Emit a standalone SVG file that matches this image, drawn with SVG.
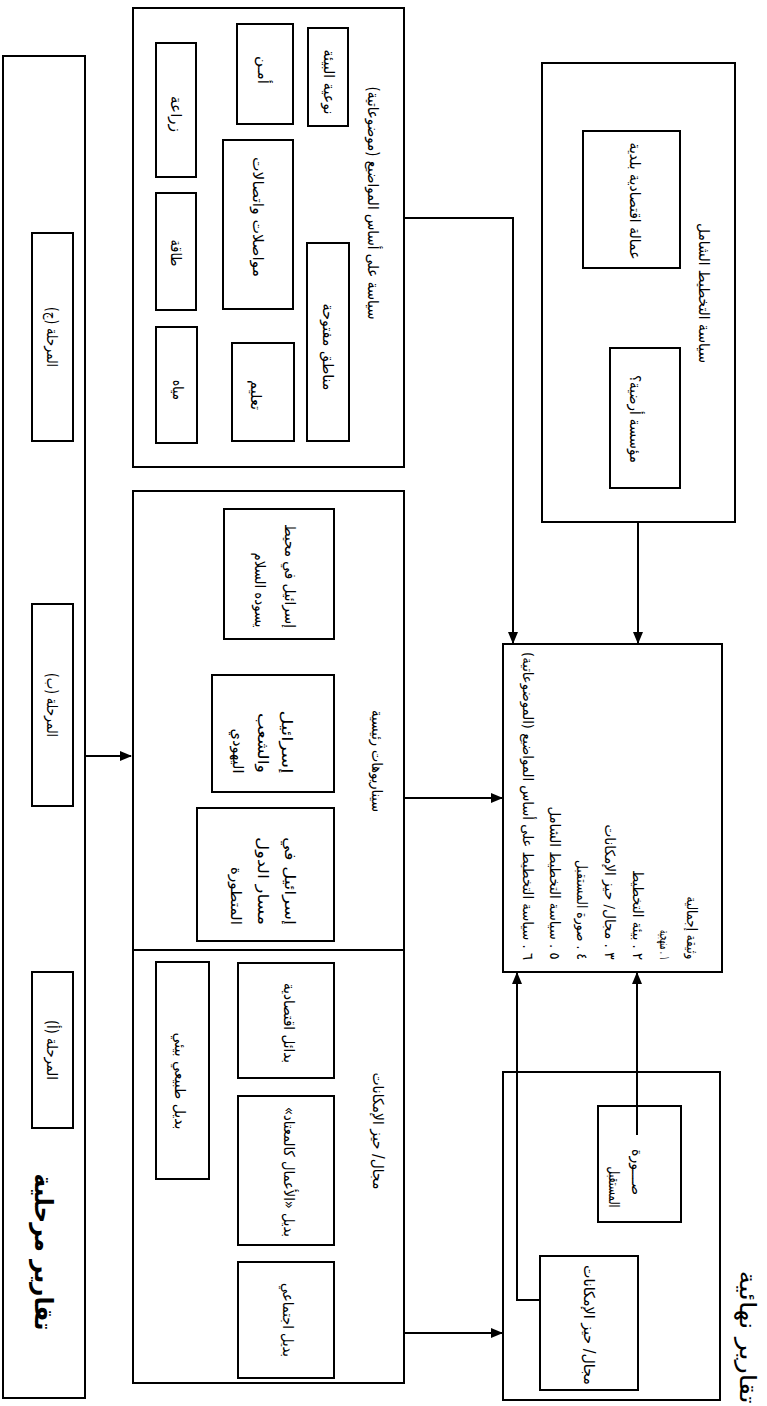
<svg xmlns="http://www.w3.org/2000/svg" width="767" height="1406" viewBox="0 0 767 1406">
<style>
.b{fill:#fff;stroke:#000;stroke-width:2}
.c{fill:none;stroke:#000;stroke-width:2}
text{font-family:"DejaVu Sans",sans-serif;font-size:15px;fill:#000;text-anchor:middle;direction:rtl;unicode-bidi:embed}
.s{font-size:14px}
.h{font-size:25px;font-weight:bold}
.h2{font-size:23px}
</style>
<defs>
<marker id="a" viewBox="0 0 12 12" refX="11" refY="6" markerWidth="12" markerHeight="12" markerUnits="userSpaceOnUse" orient="auto"><path d="M0,1 L12,6 L0,11 z" fill="#000"/></marker>
</defs>
<rect width="767" height="1406" fill="#fff"/>

<g id="interim-reports">
<rect class="b" x="3" y="56" width="82" height="1342"/>
<text class="h" transform="translate(44,1252) rotate(90)" dy=".35em" textLength="157" lengthAdjust="spacingAndGlyphs">تقارير مرحلية</text>
</g>
<g id="phase-c">
<rect class="b" x="32" y="233" width="41" height="208"/>
<text transform="translate(52,337) rotate(90)" dy=".35em" textLength="60" lengthAdjust="spacingAndGlyphs">المرحلة (ج)</text>
</g>
<g id="phase-b">
<rect class="b" x="32" y="604" width="41" height="202"/>
<text transform="translate(52,705) rotate(90)" dy=".35em" textLength="64" lengthAdjust="spacingAndGlyphs">المرحلة (ب)</text>
</g>
<g id="phase-a">
<rect class="b" x="32" y="972" width="41" height="156"/>
<text transform="translate(52,1050) rotate(90)" dy=".35em" textLength="60" lengthAdjust="spacingAndGlyphs">المرحلة (أ)</text>
</g>

<g id="thematic-policy">
<rect class="b" x="133" y="8" width="271" height="459"/>
<text transform="translate(373,203) rotate(90)" dy=".35em" textLength="233" lengthAdjust="spacingAndGlyphs">سياسة على أساس المواضيع (موضوعاتية)</text>
</g>
<g id="env-quality">
<rect class="b" x="308" y="28" width="40" height="98"/>
<text transform="translate(329,82) rotate(90)" dy=".35em" textLength="65" lengthAdjust="spacingAndGlyphs">نوعية البيئة</text>
</g>
<g id="security">
<rect class="b" x="237" y="24" width="56" height="100"/>
<text transform="translate(263,70) rotate(90)" dy=".35em">أمـن</text>
</g>
<g id="agriculture">
<rect class="b" x="156" y="43" width="40" height="134"/>
<text transform="translate(176,114) rotate(90)" dy=".35em" textLength="36" lengthAdjust="spacingAndGlyphs">زراعة</text>
</g>
<g id="transport">
<rect class="b" x="223" y="140" width="70" height="169"/>
<text transform="translate(258,217) rotate(90)" dy=".35em" textLength="120" lengthAdjust="spacingAndGlyphs">مواصلات واتصالات</text>
</g>
<g id="energy">
<rect class="b" x="156" y="193" width="40" height="117"/>
<text transform="translate(176,253) rotate(90)" dy=".35em" textLength="27" lengthAdjust="spacingAndGlyphs">طاقة</text>
</g>
<g id="open-areas">
<rect class="b" x="307" y="243" width="42" height="198"/>
<text transform="translate(328,347) rotate(90)" dy=".35em" textLength="87" lengthAdjust="spacingAndGlyphs">مناطق مفتوحة</text>
</g>
<g id="education">
<rect class="b" x="232" y="343" width="62" height="98"/>
<text transform="translate(256,395) rotate(90)" dy=".35em" textLength="30" lengthAdjust="spacingAndGlyphs">تعليم</text>
</g>
<g id="water">
<rect class="b" x="156" y="327" width="41" height="116"/>
<text transform="translate(178,390) rotate(90)" dy=".35em" textLength="20" lengthAdjust="spacingAndGlyphs">مياه</text>
</g>

<g id="scenarios-range">
<rect class="b" x="133" y="491" width="271" height="892"/>
<line class="c" x1="133" y1="950" x2="404" y2="950"/>
<text transform="translate(377,761) rotate(90)" dy=".35em" textLength="102" lengthAdjust="spacingAndGlyphs">سيناريوهات رئيسية</text>
<text transform="translate(378,1131) rotate(90)" dy=".35em" textLength="117" lengthAdjust="spacingAndGlyphs">مجال/ حيز الإمكانات</text>
</g>
<g id="peace">
<rect class="b" x="224" y="509" width="110" height="130"/>
<text transform="translate(290,576) rotate(90)" dy=".35em" textLength="104" lengthAdjust="spacingAndGlyphs">إسرائيل في محيط</text>
<text transform="translate(260,590) rotate(90)" dy=".35em" textLength="75" lengthAdjust="spacingAndGlyphs">يسوده السلام</text>
</g>
<g id="jewish-people">
<rect class="b" x="212" y="675" width="122" height="117"/>
<text transform="translate(287,742) rotate(90)" dy=".35em" textLength="63" lengthAdjust="spacingAndGlyphs">إسرائيل</text>
<text transform="translate(263,743) rotate(90)" dy=".35em" textLength="60" lengthAdjust="spacingAndGlyphs">والشعب</text>
<text transform="translate(238,751) rotate(90)" dy=".35em" textLength="45" lengthAdjust="spacingAndGlyphs">اليهودي</text>
</g>
<g id="developed">
<rect class="b" x="197" y="808" width="137" height="133"/>
<text transform="translate(290,881) rotate(90)" dy=".35em" textLength="88" lengthAdjust="spacingAndGlyphs">إسرائيل في</text>
<text transform="translate(263,881) rotate(90)" dy=".35em" textLength="88" lengthAdjust="spacingAndGlyphs">مسار الدول</text>
<text transform="translate(236,896) rotate(90)" dy=".35em" textLength="58" lengthAdjust="spacingAndGlyphs">المتطورة</text>
</g>
<g id="economic-alt">
<rect class="b" x="238" y="963" width="96" height="115"/>
<text transform="translate(289,1023) rotate(90)" dy=".35em" textLength="80" lengthAdjust="spacingAndGlyphs">بدائل اقتصادية</text>
</g>
<g id="business-as-usual">
<rect class="b" x="238" y="1096" width="96" height="149"/>
<text transform="translate(289,1172) rotate(90)" dy=".35em" textLength="130" lengthAdjust="spacingAndGlyphs">بديل «الأعمال كالمعتاد»</text>
</g>
<g id="social-alt">
<rect class="b" x="238" y="1262" width="96" height="116"/>
<text transform="translate(288,1320) rotate(90)" dy=".35em" textLength="74" lengthAdjust="spacingAndGlyphs">بديل اجتماعي</text>
</g>
<g id="nature-alt">
<rect class="b" x="156" y="962" width="53" height="217"/>
<text transform="translate(180,1081) rotate(90)" dy=".35em" textLength="97" lengthAdjust="spacingAndGlyphs">بديل طبيعي بيئي</text>
</g>

<g id="comprehensive-policy">
<rect class="b" x="542" y="63" width="193" height="459"/>
<text transform="translate(704,293) rotate(90)" dy=".35em" textLength="140" lengthAdjust="spacingAndGlyphs">سياسة التخطيط الشامل</text>
</g>
<g id="local-employment">
<rect class="b" x="583" y="131" width="97" height="137"/>
<text transform="translate(635,201) rotate(90)" dy=".35em" textLength="117" lengthAdjust="spacingAndGlyphs">عمالة اقتصادية بلدية</text>
</g>
<g id="land-institution">
<rect class="b" x="610" y="348" width="70" height="140"/>
<text transform="translate(635,419) rotate(90)" dy=".35em" textLength="88" lengthAdjust="spacingAndGlyphs">مؤسسة أرضية؟</text>
</g>

<g id="overall-document">
<rect class="b" x="503" y="644" width="219" height="328"/>
<text class="s" transform="translate(692,928) rotate(90)" dy=".35em" textLength="63" lengthAdjust="spacingAndGlyphs">وثيقة إجمالية</text>
<text class="s" transform="translate(665,945) rotate(90)" dy=".35em" textLength="30" lengthAdjust="spacingAndGlyphs">١ . منهجية</text>
<text class="s" transform="translate(638,915) rotate(90)" dy=".35em" textLength="90" lengthAdjust="spacingAndGlyphs">٢ . بيئة التخطيط</text>
<text class="s" transform="translate(610,892) rotate(90)" dy=".35em" textLength="135" lengthAdjust="spacingAndGlyphs">٣ . مجال/ حيز الإمكانات</text>
<text class="s" transform="translate(582,910) rotate(90)" dy=".35em" textLength="100" lengthAdjust="spacingAndGlyphs">٤ . صورة المستقبل</text>
<text class="s" transform="translate(555,883) rotate(90)" dy=".35em" textLength="153" lengthAdjust="spacingAndGlyphs">٥ . سياسة التخطيط الشامل</text>
<text class="s" transform="translate(528,806) rotate(90)" dy=".35em" textLength="308" lengthAdjust="spacingAndGlyphs">٦ . سياسة التخطيط على أساس المواضيع (الموضوعاتية)</text>
</g>

<g id="final-reports">
<rect class="b" x="503" y="1072" width="217" height="328"/>
<text class="h2" transform="translate(748,1337) rotate(90)" dy=".35em" textLength="133" lengthAdjust="spacingAndGlyphs">تقارير نهائية</text>
</g>
<g id="future-image">
<rect class="b" x="598" y="1106" width="83" height="116"/>
<text transform="translate(637,1172) rotate(90)" dy=".35em" textLength="46" lengthAdjust="spacingAndGlyphs">صـــورة</text>
<text transform="translate(614,1187) rotate(90)" dy=".35em" textLength="41" lengthAdjust="spacingAndGlyphs">المستقبل</text>
</g>
<g id="final-range">
<rect class="b" x="540" y="1256" width="98" height="134"/>
<text transform="translate(589,1325) rotate(90)" dy=".35em" textLength="120" lengthAdjust="spacingAndGlyphs">مجال/ حيز الإمكانات</text>
</g>

<g id="connectors">
<line class="c" x1="85" y1="756" x2="131" y2="756" marker-end="url(#a)"/>
<polyline class="c" points="404,218 513,218 513,643" marker-end="url(#a)"/>
<line class="c" x1="638" y1="522" x2="638" y2="643" marker-end="url(#a)"/>
<line class="c" x1="404" y1="798" x2="502" y2="798" marker-end="url(#a)"/>
<line class="c" x1="404" y1="1333" x2="502" y2="1333" marker-end="url(#a)"/>
<polyline class="c" points="540,1300 517,1300 517,973" marker-end="url(#a)"/>
<line class="c" x1="637" y1="1135" x2="637" y2="973" marker-end="url(#a)"/>
</g>
</svg>
